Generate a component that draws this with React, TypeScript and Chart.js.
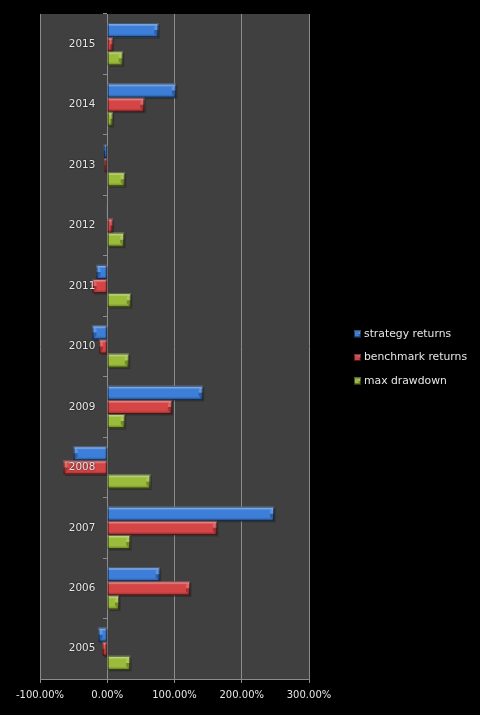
import React, { useEffect, useRef } from "react";
import { Chart, registerables } from "chart.js";

Chart.register(...registerables);

const years = ["2005", "2006", "2007", "2008", "2009", "2010", "2011", "2012", "2013", "2014", "2015"];
const strategyReturns = [-13, 78, 248, -50, 142, -22, -16, -1, -5, 102, 76];
const benchmarkReturns = [-7, 123, 163, -65, 96, -12, -22, 8, -4, 55, 8];
const maxDrawdown = [34, 17.5, 34, 64, 26, 32, 35, 25, 26, 8, 23];
const xTicks = [-100, 0, 100, 200, 300];

const seriesNames = ["strategy returns", "benchmark returns", "max drawdown"];
const seriesColors = ["#3d7ed8", "#d64545", "#9bbb3b"];

const FONT = "'DejaVu Sans', Verdana, sans-serif";
const TEXT = "#e6e6e6";
const LINE = "#8c8c8c";

const bgPlugin = {
  id: "bgPlugin",
  beforeDraw(chart: any) {
    const { ctx, chartArea, width, height } = chart;
    ctx.save();
    ctx.fillStyle = "#000";
    ctx.fillRect(0, 0, width, height);
    ctx.fillStyle = "#404040";
    ctx.fillRect(chartArea.left, chartArea.top, chartArea.right - chartArea.left, chartArea.bottom - chartArea.top);
    ctx.restore();
  },
};

function bevel(ctx: any, left: number, top: number, w: number, h: number, pointRight: boolean) {
  const g = ctx.createLinearGradient(0, top, 0, top + h);
  g.addColorStop(0, "rgba(255,255,255,0.5)");
  g.addColorStop(0.16, "rgba(255,255,255,0.25)");
  g.addColorStop(0.24, "rgba(255,255,255,0)");
  g.addColorStop(0.76, "rgba(0,0,0,0)");
  g.addColorStop(1, "rgba(0,0,0,0.35)");
  ctx.fillStyle = g;
  ctx.fillRect(left, top, w, h);
  const cap = Math.min(4, w / 2);
  const endX = pointRight ? left + w : left;
  const dir = pointRight ? -1 : 1;
  ctx.fillStyle = "rgba(255,255,255,0.18)";
  ctx.beginPath();
  ctx.moveTo(endX, top);
  ctx.lineTo(endX + dir * cap, top + cap);
  ctx.lineTo(endX + dir * cap, top + h / 2);
  ctx.lineTo(endX, top + h / 2);
  ctx.closePath();
  ctx.fill();
  ctx.fillStyle = "rgba(0,0,0,0.25)";
  ctx.beginPath();
  ctx.moveTo(endX, top + h / 2);
  ctx.lineTo(endX + dir * cap, top + h / 2);
  ctx.lineTo(endX + dir * cap, top + h - cap);
  ctx.lineTo(endX, top + h);
  ctx.closePath();
  ctx.fill();
  ctx.strokeStyle = "rgba(0,0,0,0.55)";
  ctx.lineWidth = 1;
  ctx.strokeRect(left + 0.5, top + 0.5, w - 1, h - 1);
}

const bevelPlugin = {
  id: "bevelPlugin",
  beforeDatasetsDraw(chart: any) {
    // soft drop shadow under each bar
    const { ctx } = chart;
    ctx.save();
    ctx.fillStyle = "rgba(0,0,0,0.25)";
    chart.data.datasets.forEach((_ds: any, di: number) => {
      chart.getDatasetMeta(di).data.forEach((el: any) => {
        const p = el.getProps(["x", "y", "base", "height"], true);
        const left = Math.min(p.x, p.base);
        const w = Math.abs(p.x - p.base);
        if (w < 0.5) return;
        ctx.fillRect(left + 1.5, p.y - p.height / 2 + 1.5, w, p.height);
      });
    });
    ctx.restore();
  },
  afterDatasetsDraw(chart: any) {
    const { ctx } = chart;
    ctx.save();
    chart.data.datasets.forEach((_ds: any, di: number) => {
      const meta = chart.getDatasetMeta(di);
      meta.data.forEach((el: any) => {
        const p = el.getProps(["x", "y", "base", "height"], true);
        const left = Math.min(p.x, p.base);
        const right = Math.max(p.x, p.base);
        const w = right - left;
        if (w < 0.5) return;
        bevel(ctx, left, p.y - p.height / 2, w, p.height, p.x >= p.base);
      });
    });
    ctx.restore();
  },
};

// category labels drawn beside the zero axis, above the bars
const yLabelPlugin = {
  id: "yLabelPlugin",
  afterDatasetsDraw(chart: any) {
    const { ctx } = chart;
    const xs = chart.scales.x;
    const ys = chart.scales.y;
    const x0 = xs.getPixelForValue(0) - 12;
    ctx.save();
    ctx.font = `10.4px ${FONT}`;
    ctx.fillStyle = TEXT;
    ctx.textAlign = "right";
    ctx.textBaseline = "middle";
    ctx.shadowColor = "rgba(0,0,0,0.8)";
    ctx.shadowBlur = 2;
    years.forEach((label, i) => {
      ctx.fillText(label, x0, ys.getPixelForValue(i));
    });
    ctx.restore();
  },
};

const legendPlugin = {
  id: "legendPlugin",
  afterDraw(chart: any) {
    const { ctx, chartArea, height } = chart;
    const bx = chartArea.right + 45;
    const spacing = 23.5;
    const cy = height / 2;
    ctx.save();
    ctx.font = `10.8px ${FONT}`;
    ctx.textAlign = "left";
    ctx.textBaseline = "middle";
    chart.data.datasets.forEach((ds: any, i: number) => {
      const y = cy + (i - (chart.data.datasets.length - 1) / 2) * spacing;
      ctx.fillStyle = ds.backgroundColor;
      ctx.fillRect(bx, y - 3.5, 7, 7);
      bevel(ctx, bx, y - 3.5, 7, 7, true);
      ctx.fillStyle = TEXT;
      ctx.fillText(ds.label, bx + 10, y);
    });
    ctx.restore();
  },
};

export default function App() {
  const ref = useRef<HTMLCanvasElement | null>(null);

  useEffect(() => {
    document.body.style.margin = "0";
    document.body.style.background = "#000";
    if (!ref.current) return;
    const values = [strategyReturns, benchmarkReturns, maxDrawdown];
    const chart = new Chart(ref.current, {
      type: "bar",
      data: {
        labels: years,
        datasets: seriesNames.map((name, i) => ({
          label: name,
          data: values[i],
          backgroundColor: seriesColors[i],
          borderWidth: 0,
          categoryPercentage: 0.7,
          barPercentage: 1,
        })),
      },
      options: {
        indexAxis: "y",
        animation: false,
        responsive: false,
        maintainAspectRatio: false,
        layout: { padding: { left: 40, top: 14, bottom: 8, right: 171 } },
        plugins: {
          tooltip: { enabled: false },
          legend: { display: false },
        },
        scales: {
          x: {
            type: "linear",
            min: -100,
            max: 300,
            afterBuildTicks: (axis: any) => {
              axis.ticks = xTicks.map((v) => ({ value: v }));
            },
            ticks: {
              color: TEXT,
              font: { family: FONT, size: 10 },
              padding: 6,
              maxRotation: 0,
              callback: (v: any) => Number(v).toFixed(2) + "%",
            },
            grid: { color: LINE, lineWidth: 1, tickLength: 4, drawTicks: true },
            border: { color: LINE },
          },
          y: {
            type: "category",
            reverse: true,
            position: { x: 0 } as any,
            offset: true,
            ticks: { display: false },
            grid: {
              offset: true,
              drawOnChartArea: false,
              drawTicks: true,
              tickLength: 4,
              color: LINE,
            },
            border: { color: LINE },
          },
        },
      },
      plugins: [bgPlugin, bevelPlugin, yLabelPlugin, legendPlugin],
    } as any);
    return () => chart.destroy();
  }, []);

  return (
    <div style={{ position: "fixed", left: 0, top: 0, width: 480, height: 715, background: "#000" }}>
      <canvas ref={ref} width={480} height={715} style={{ width: 480, height: 715, display: "block" }} />
    </div>
  );
}
